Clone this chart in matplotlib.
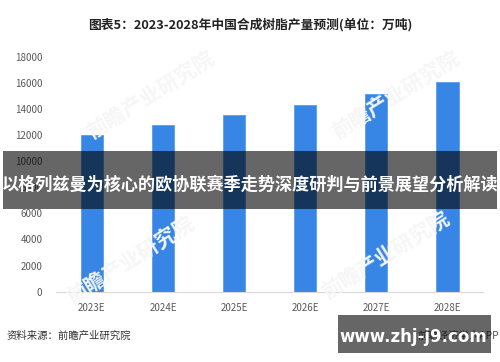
import matplotlib
matplotlib.use("Agg")
import matplotlib.pyplot as plt
from matplotlib.patches import Rectangle

plt.rcParams['font.family'] = ['Noto Sans CJK SC', 'DejaVu Sans']

categories = ["2023E", "2024E", "2025E", "2026E", "2027E", "2028E"]
values = [12000, 12750, 13500, 14300, 15150, 16050]
yticks = [0, 2000, 4000, 6000, 8000, 10000, 12000, 14000, 16000, 18000]

W, H = 500, 362
fig = plt.figure(figsize=(W / 100, H / 100), dpi=100)
fig.patch.set_facecolor("white")

# faint watermarks (behind)
for (wx, wy) in [(150, 95), (395, 95), (130, 260), (385, 255)]:
    fig.text(wx / W, 1 - wy / H, "前瞻产业研究院", fontsize=15, color="#f6f6f6",
             rotation=32, ha="center", va="center", fontweight="bold", zorder=0)

ax = fig.add_axes([56.2 / W, 1 - 291.7 / H, (483.1 - 56.2) / W, (291.7 - 56.7) / H])
ax.patch.set_alpha(0)
x = range(len(categories))
ax.bar(x, values, width=0.31, color="#3785e5", edgecolor="#5b9cec", linewidth=0.6, zorder=2)
ax.set_xlim(-0.5, len(categories) - 0.5)
ax.set_ylim(0, 18000)
ax.set_yticks(yticks)
ax.set_yticklabels([str(v) for v in yticks])
ax.set_xticks(list(x))
ax.set_xticklabels(categories)
for s in ["left", "right", "top"]:
    ax.spines[s].set_visible(False)
ax.spines["bottom"].set_color("#d9d9d9")
ax.spines["bottom"].set_linewidth(0.8)
ax.tick_params(axis="both", length=0, labelsize=7, labelcolor="#595959")
ax.tick_params(axis="y", pad=10)
ax.tick_params(axis="x", pad=8)

fig.text(250 / W, 1 - 25 / H, "图表5：2023-2028年中国合成树脂产量预测(单位：万吨)",
         fontsize=9.2, fontweight="bold", color="#222222", ha="center", va="center")
fig.text(6.5 / W, 1 - 336 / H, "资料来源：前瞻产业研究院", fontsize=7.5,
         color="#333333", ha="left", va="center")
fig.text(499 / W, 1 - 336 / H, "前瞻经济学人APP", fontsize=7.5,
         color="#555555", ha="right", va="center")

# overlay banner
fig.add_artist(Rectangle((3 / W, 1 - 209 / H), 494 / W, 57.5 / H, transform=fig.transFigure,
                         facecolor="black", alpha=0.6, edgecolor="none", zorder=5))
fig.text(250 / W, 1 - 185 / H, "以格列兹曼为核心的欧协联赛季走势深度研判与前景展望分析解读",
         fontsize=12.3, fontweight="bold", color="white", ha="center", va="center", zorder=6)

fig.add_artist(Rectangle((338 / W, 1 - 352.7 / H), 153 / W, 37.7 / H, transform=fig.transFigure,
                         facecolor="black", alpha=0.6, edgecolor="none", zorder=5))
fig.text(413 / W, 1 - 336.5 / H, "www.zhj-j9.com", fontsize=12, fontweight="bold",
         color="white", ha="center", va="center", zorder=6, family=["DejaVu Sans"])

fig.savefig("out.png", dpi=100, facecolor="white")
